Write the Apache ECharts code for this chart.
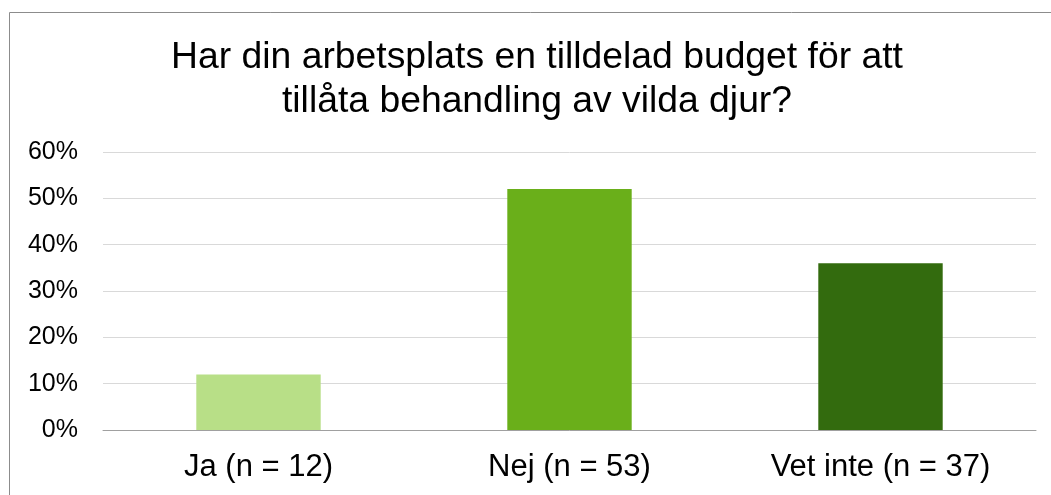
<!DOCTYPE html>
<html>
<head>
<meta charset="utf-8">
<script src="https://cdn.jsdelivr.net/npm/echarts@6/dist/echarts.min.js"></script>
<style>html,body{margin:0;padding:0;background:#fff}#c{width:1051px;height:495px}</style>
</head>
<body>
<div id="c"></div>
<script>
const titleText = "Har din arbetsplats en tilldelad budget för att\ntillåta behandling av vilda djur?";
const categories = ["Ja (n = 12)", "Nej (n = 53)", "Vet inte (n = 37)"];
const values = [12, 52, 36];
const yTicks = { min: 0, max: 60, interval: 10 };
const barColors = ["#B8DF87", "#6AAF1A", "#336B0E"];

const chart = echarts.init(document.getElementById('c'), null, { renderer: 'canvas' });
chart.setOption({
  backgroundColor: '#ffffff',
  animation: false,
  graphic: [{
    type: 'rect', silent: true,
    shape: { x: 9.5, y: 12.5, width: 1200, height: 700 },
    style: { fill: 'none', stroke: '#8c8c8c', lineWidth: 1 }
  }],
  title: {
    text: titleText,
    left: 537,
    top: 36,
    padding: 0,
    textAlign: 'center',
    textStyle: { fontFamily: 'Liberation Sans, Arial, sans-serif', fontSize: 37.3, fontWeight: 'normal', color: '#000', lineHeight: 44 }
  },
  grid: { left: 103, right: 15, top: 152, bottom: 65, containLabel: false },
  xAxis: {
    type: 'category',
    data: categories,
    axisTick: { show: false },
    axisLine: { lineStyle: { color: '#a0a0a0', width: 1 } },
    axisLabel: { color: '#000', fontSize: 31, fontFamily: 'Liberation Sans, Arial, sans-serif', margin: 22 }
  },
  yAxis: {
    type: 'value',
    min: yTicks.min, max: yTicks.max, interval: yTicks.interval,
    axisLine: { show: false },
    axisTick: { show: false },
    splitLine: { lineStyle: { color: '#d9d9d9', width: 1 } },
    axisLabel: { formatter: '{value}%', color: '#000', fontSize: 25, fontFamily: 'Liberation Sans, Arial, sans-serif', margin: 25 }
  },
  series: [{
    type: 'bar',
    barWidth: '40%',
    data: values.map((v, i) => ({ value: v, itemStyle: { color: barColors[i] } }))
  }]
});
</script>
</body>
</html>
